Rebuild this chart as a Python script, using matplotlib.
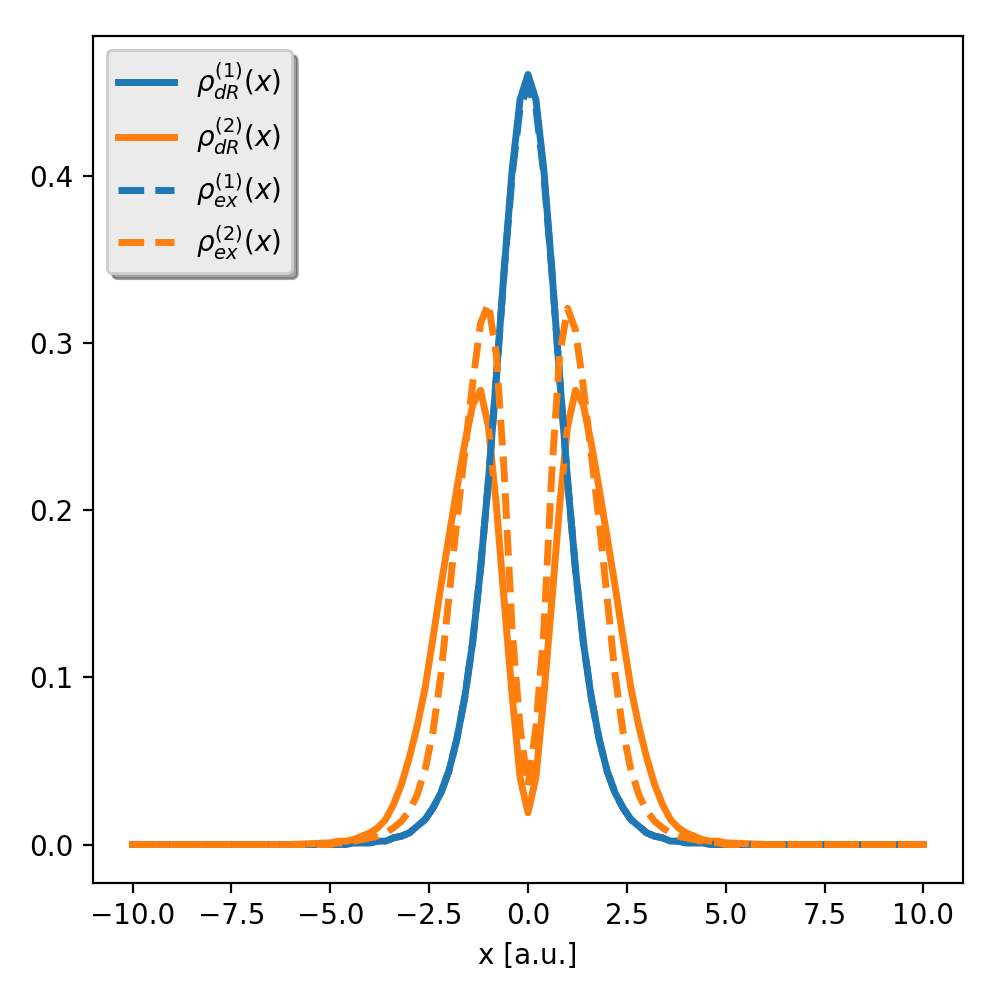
import numpy as np
import matplotlib.pyplot as plt

# grid: coarse flat tails plus 0.2 spacing in the middle
x = np.concatenate([[-10.0, -8.0, -6.0], np.linspace(-5.0, 5.0, 51), [6.0, 8.0, 10.0]])

# rho^(1) from dR
rho1_dR = [0.0, 0.0, 0.0,
           0.000, 0.000, 0.000, 0.001, 0.001, 0.001, 0.002, 0.002, 0.004, 0.005,
           0.007, 0.011, 0.015, 0.022, 0.031, 0.044, 0.063, 0.088, 0.121, 0.165,
           0.218, 0.280, 0.345, 0.404, 0.446,
           0.461,
           0.446, 0.404, 0.345, 0.280, 0.218, 0.165, 0.121, 0.088, 0.063, 0.044,
           0.031, 0.022, 0.015, 0.011, 0.007, 0.005, 0.004, 0.002, 0.002, 0.001,
           0.001, 0.001, 0.000, 0.000, 0.000,
           0.0, 0.0, 0.0]

# rho^(2) from dR
rho2_dR = [0.0, 0.0, 0.0,
           0.001, 0.002, 0.002, 0.003, 0.005, 0.007, 0.010, 0.015, 0.024, 0.036,
           0.052, 0.071, 0.094, 0.124, 0.155, 0.184, 0.213, 0.240, 0.263, 0.272,
           0.250, 0.203, 0.145, 0.089, 0.040,
           0.019,
           0.040, 0.089, 0.145, 0.203, 0.250, 0.272, 0.263, 0.240, 0.213, 0.184,
           0.155, 0.124, 0.094, 0.071, 0.052, 0.036, 0.024, 0.015, 0.010, 0.007,
           0.005, 0.003, 0.002, 0.002, 0.001,
           0.0, 0.0, 0.0]

# rho^(1) exact
rho1_ex = [0.0, 0.0, 0.0,
           0.000, 0.000, 0.000, 0.001, 0.001, 0.001, 0.002, 0.002, 0.004, 0.005,
           0.007, 0.011, 0.015, 0.022, 0.031, 0.044, 0.063, 0.088, 0.121, 0.165,
           0.218, 0.280, 0.344, 0.401, 0.441,
           0.454,
           0.441, 0.401, 0.344, 0.280, 0.218, 0.165, 0.121, 0.088, 0.063, 0.044,
           0.031, 0.022, 0.015, 0.011, 0.007, 0.005, 0.004, 0.002, 0.002, 0.001,
           0.001, 0.001, 0.000, 0.000, 0.000,
           0.0, 0.0, 0.0]

# rho^(2) exact
rho2_ex = [0.0, 0.0, 0.0,
           0.000, 0.001, 0.001, 0.002, 0.003, 0.004, 0.005, 0.007, 0.010, 0.014,
           0.020, 0.030, 0.045, 0.068, 0.102, 0.148, 0.193, 0.235, 0.276, 0.312,
           0.324, 0.293, 0.222, 0.128, 0.070,
           0.035,
           0.070, 0.128, 0.222, 0.293, 0.321, 0.308, 0.274, 0.234, 0.193, 0.148,
           0.102, 0.068, 0.045, 0.030, 0.020, 0.014, 0.010, 0.007, 0.005, 0.004,
           0.003, 0.002, 0.001, 0.001, 0.000,
           0.0, 0.0, 0.0]

fig = plt.figure(figsize=(5.0, 5.0), dpi=200)
ax = fig.add_subplot(111)
fig.subplots_adjust(left=0.093, right=0.963, top=0.964, bottom=0.117)

ax.plot(x, rho1_dR, '-', color='C0', lw=2.5, label=r'$\rho^{(1)}_{dR}(x)$')
ax.plot(x, rho2_dR, '-', color='C1', lw=2.5, label=r'$\rho^{(2)}_{dR}(x)$')
ax.plot(x, rho1_ex, '--', color='C0', lw=2.5, label=r'$\rho^{(1)}_{ex}(x)$')
ax.plot(x, rho2_ex, '--', color='C1', lw=2.5, label=r'$\rho^{(2)}_{ex}(x)$')

leg = ax.legend(loc='upper left', shadow=True, framealpha=1.0)
leg.get_frame().set_facecolor('#ebebeb')
ax.set_xlabel('x [a.u.]')

plt.savefig('out.png', dpi=200)
